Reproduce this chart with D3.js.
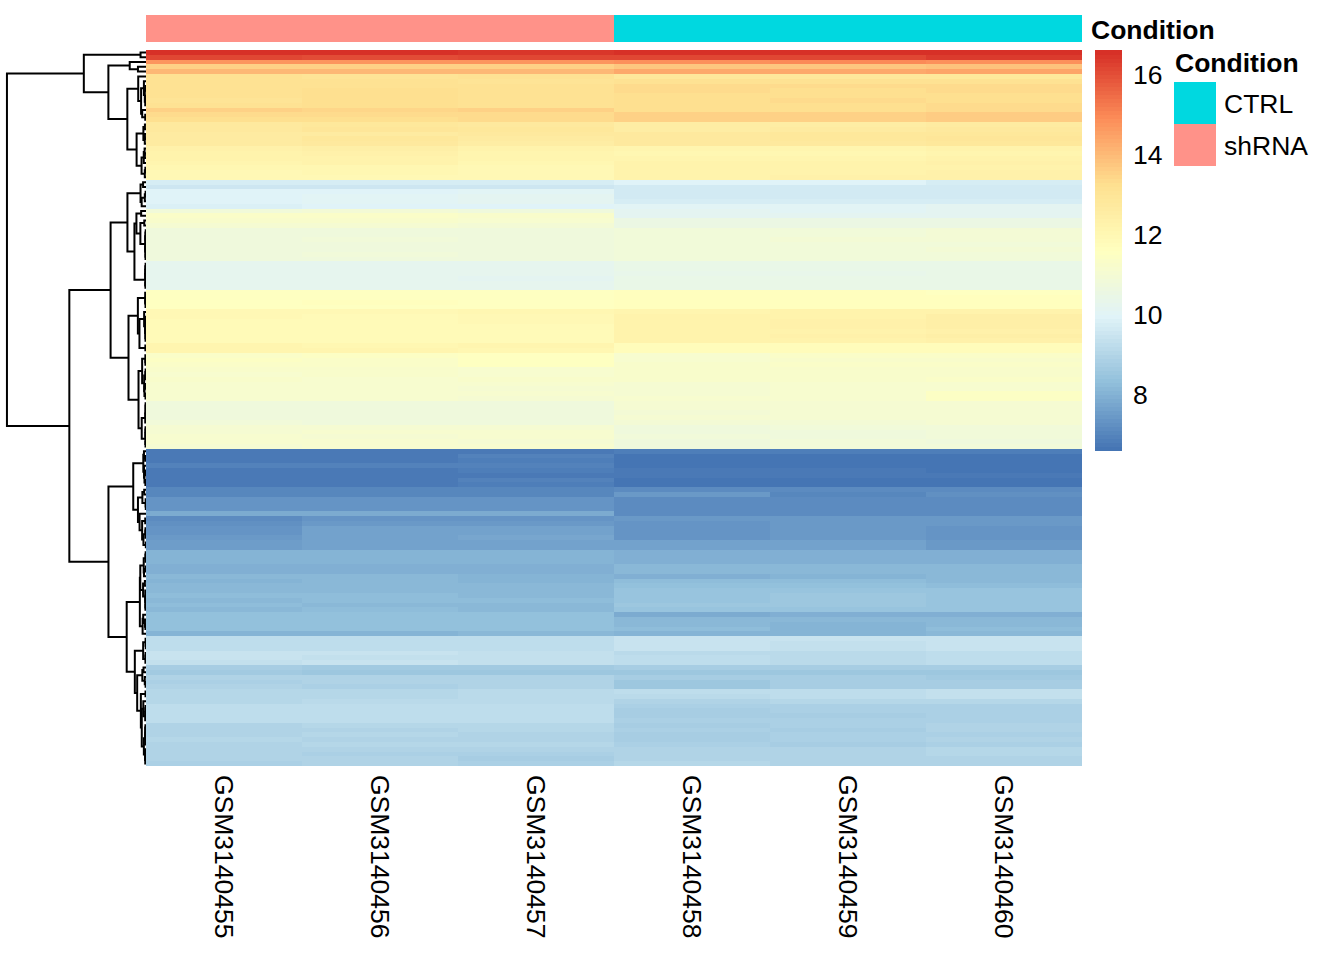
<!DOCTYPE html>
<html>
<head>
<meta charset="utf-8">
<script src="https://cdn.jsdelivr.net/npm/d3@7"></script>
<style>
  html, body { margin: 0; padding: 0; background: #fff; }
  svg { display: block; font-family: "Liberation Sans", Arial, sans-serif; }
</style>
</head>
<body>
<div id="chart"></div>
<script>
// Samples (columns) and their condition annotation
const sampleIds = ['GSM3140455', 'GSM3140456', 'GSM3140457', 'GSM3140458', 'GSM3140459', 'GSM3140460'];
const sampleConditions = ['shRNA', 'shRNA', 'shRNA', 'CTRL', 'CTRL', 'CTRL'];
const conditionLevels = ['CTRL', 'shRNA'];
const legendTicks = [8, 10, 12, 14, 16];

// Expression values, one row per gene, in the order shown
const exprHigh = [
  [16.55, 16.55, 16.5, 16.63, 16.6, 16.6],
  [16.15, 16.1, 16.15, 16.2, 16.2, 16.35],
  [14.75, 14.8, 14.75, 14.9, 14.95, 14.85],
  [13.55, 13.6, 13.55, 13.8, 13.75, 13.85],
  [14.1, 14.1, 14.05, 14.4, 14.4, 14.45],
  [13.15, 13.1, 13.15, 12.85, 12.9, 12.85],
  [13.15, 13.15, 13.1, 13.2, 13.2, 13.15],
  [13.2, 13.2, 13.15, 13.4, 13.35, 13.4],
  [13.2, 13.25, 13.2, 13.35, 13.3, 13.35],
  [13.15, 13.3, 13.2, 13.3, 13.3, 13.3],
  [13.1, 13.3, 13.2, 13.3, 13.35, 13.3],
  [13.2, 13.25, 13.2, 13.3, 13.3, 13.35],
  [13.55, 13.5, 13.6, 13.3, 13.3, 13.35],
  [13.35, 13.4, 13.4, 13.6, 13.55, 13.65],
  [13.3, 13.3, 13.35, 13.6, 13.6, 13.65],
  [12.75, 12.85, 12.8, 12.6, 12.6, 12.65],
  [12.8, 12.95, 12.85, 12.6, 12.7, 12.75],
  [12.7, 12.7, 12.75, 12.8, 12.85, 12.85],
  [12.7, 12.85, 12.7, 12.8, 12.85, 12.95],
  [12.65, 12.75, 12.6, 12.75, 12.75, 12.85],
  [12.4, 12.5, 12.3, 12.2, 12.2, 12.3],
  [12.3, 12.4, 12.2, 12.1, 12.1, 12.2],
  [12.3, 12.3, 12.2, 12.2, 12.2, 12.3],
  [12.2, 12.3, 12.1, 12.3, 12.3, 12.4],
  [12.1, 12.1, 12.0, 12.3, 12.3, 12.3],
  [12.0, 12.1, 12.0, 12.3, 12.3, 12.35],
  [12.0, 12.0, 11.95, 12.3, 12.4, 12.4]
];

const exprMid = [
  [9.75, 9.75, 9.75, 10.0, 10.0, 9.8],
  [9.6, 9.6, 9.6, 9.7, 9.7, 9.7],
  [10.0, 10.0, 10.1, 9.7, 9.7, 9.7],
  [10.0, 10.05, 10.15, 9.7, 9.7, 9.7],
  [10.0, 10.1, 10.15, 9.8, 9.8, 9.8],
  [9.9, 9.95, 10.0, 10.1, 10.1, 10.15],
  [10.9, 10.95, 10.8, 10.15, 10.1, 10.15],
  [11.4, 11.4, 11.3, 10.15, 10.15, 10.2],
  [11.3, 11.25, 11.15, 10.55, 10.6, 10.6],
  [11.1, 11.1, 11.0, 10.6, 10.6, 10.55],
  [10.8, 10.8, 10.8, 10.9, 10.9, 10.95],
  [10.8, 10.8, 10.75, 10.9, 10.9, 10.95],
  [10.8, 10.85, 10.8, 10.9, 10.95, 11.0],
  [10.75, 10.8, 10.8, 10.9, 10.9, 10.9],
  [10.8, 10.8, 10.8, 10.85, 10.9, 10.95],
  [10.75, 10.85, 10.8, 10.9, 10.9, 10.9],
  [10.8, 10.8, 10.8, 10.9, 10.85, 10.9],
  [10.3, 10.3, 10.25, 10.45, 10.45, 10.45],
  [10.3, 10.3, 10.25, 10.45, 10.5, 10.5],
  [10.25, 10.3, 10.25, 10.4, 10.4, 10.5],
  [10.25, 10.3, 10.2, 10.45, 10.5, 10.45],
  [10.3, 10.25, 10.3, 10.45, 10.45, 10.5],
  [10.28, 10.3, 10.25, 10.45, 10.5, 10.45],
  [11.6, 11.6, 11.55, 11.65, 11.65, 11.6],
  [11.55, 11.6, 11.6, 11.7, 11.7, 11.65],
  [11.6, 11.65, 11.6, 11.7, 11.7, 11.7],
  [11.6, 11.6, 11.55, 11.7, 11.7, 11.65],
  [11.95, 11.95, 12.05, 12.2, 12.25, 12.25],
  [11.95, 11.9, 12.0, 12.3, 12.3, 12.45],
  [11.9, 11.9, 11.95, 12.3, 12.35, 12.45],
  [11.9, 11.9, 11.85, 12.3, 12.35, 12.45],
  [11.9, 11.85, 11.9, 12.3, 12.3, 12.4],
  [11.85, 11.9, 11.9, 12.3, 12.35, 12.45],
  [11.85, 11.85, 11.9, 12.3, 12.3, 12.4],
  [12.15, 12.1, 12.15, 11.8, 11.75, 11.8],
  [12.15, 12.15, 12.1, 11.75, 11.8, 11.75],
  [11.4, 11.45, 11.6, 11.2, 11.35, 11.35],
  [11.45, 11.4, 11.55, 11.2, 11.3, 11.3],
  [11.4, 11.4, 11.55, 11.25, 11.35, 11.35],
  [11.25, 11.25, 11.2, 11.25, 11.3, 11.3],
  [11.2, 11.25, 11.2, 11.3, 11.3, 11.3],
  [11.25, 11.2, 11.25, 11.25, 11.3, 11.35],
  [11.15, 11.15, 11.15, 11.1, 11.15, 11.2],
  [11.15, 11.2, 11.1, 11.1, 11.15, 11.2],
  [11.15, 11.15, 11.15, 11.1, 11.2, 11.45],
  [11.2, 11.15, 11.1, 11.15, 11.2, 11.45],
  [10.8, 10.8, 10.8, 11.05, 11.1, 11.1],
  [10.8, 10.8, 10.8, 11.05, 11.05, 11.05],
  [10.8, 10.75, 10.8, 11.0, 11.05, 11.1],
  [10.8, 10.8, 10.8, 11.05, 11.05, 11.05],
  [10.85, 10.8, 10.8, 11.0, 11.0, 11.05],
  [11.1, 11.1, 11.1, 10.8, 10.85, 10.85],
  [11.1, 11.15, 11.15, 10.8, 10.8, 10.85],
  [11.15, 11.1, 11.15, 10.85, 10.8, 10.85],
  [11.15, 11.15, 11.1, 10.8, 10.85, 10.8],
  [11.1, 11.15, 11.15, 10.8, 10.85, 10.85]
];

const exprLow = [
  [6.75, 6.75, 6.8, 6.9, 6.85, 6.85],
  [6.75, 6.75, 7.0, 6.7, 6.7, 6.7],
  [6.75, 6.75, 6.85, 6.7, 6.7, 6.7],
  [6.98, 6.98, 7.0, 6.72, 6.7, 6.72],
  [6.8, 6.8, 6.85, 6.75, 6.75, 6.68],
  [6.8, 6.8, 6.8, 6.75, 6.75, 6.8],
  [6.8, 6.8, 6.95, 6.65, 6.63, 6.65],
  [6.82, 6.82, 6.85, 6.65, 6.63, 6.63],
  [7.07, 7.07, 7.07, 7.2, 7.2, 7.15],
  [7.1, 7.1, 7.1, 7.45, 7.1, 7.3],
  [7.4, 7.4, 7.4, 7.2, 7.15, 7.2],
  [7.42, 7.4, 7.4, 7.2, 7.2, 7.2],
  [7.42, 7.42, 7.4, 7.18, 7.2, 7.18],
  [7.85, 7.85, 7.92, 7.15, 7.18, 7.15],
  [7.15, 7.4, 7.4, 7.45, 7.5, 7.45],
  [7.25, 7.45, 7.45, 7.4, 7.5, 7.45],
  [7.4, 7.65, 7.65, 7.35, 7.5, 7.4],
  [7.4, 7.7, 7.7, 7.35, 7.45, 7.38],
  [7.45, 7.65, 7.75, 7.35, 7.5, 7.4],
  [7.6, 7.7, 7.68, 7.65, 7.7, 7.45],
  [7.6, 7.68, 7.7, 7.65, 7.7, 7.45],
  [8.05, 8.1, 8.1, 7.95, 8.0, 7.95],
  [8.1, 8.1, 8.1, 7.97, 8.0, 7.97],
  [8.1, 8.05, 8.1, 8.0, 8.0, 8.0],
  [7.97, 7.97, 8.0, 8.15, 8.15, 8.2],
  [8.0, 8.0, 7.98, 8.15, 8.15, 8.2],
  [8.15, 8.15, 8.1, 7.95, 8.1, 8.15],
  [8.1, 8.15, 8.1, 8.25, 8.3, 8.2],
  [8.2, 8.2, 8.15, 8.35, 8.35, 8.3],
  [8.15, 8.2, 8.2, 8.5, 8.5, 8.45],
  [8.25, 8.25, 8.2, 8.5, 8.55, 8.5],
  [8.2, 8.25, 8.25, 8.5, 8.55, 8.5],
  [8.25, 8.2, 8.2, 8.55, 8.55, 8.45],
  [8.2, 8.25, 8.22, 8.5, 8.5, 8.45],
  [8.4, 8.4, 8.4, 7.9, 7.95, 7.95],
  [8.4, 8.4, 8.4, 8.15, 8.2, 8.15],
  [8.35, 8.4, 8.4, 8.2, 8.1, 8.2],
  [8.4, 8.35, 8.4, 8.25, 8.1, 8.25],
  [8.1, 8.1, 8.15, 8.1, 8.1, 8.15],
  [9.3, 9.3, 9.3, 9.45, 9.45, 9.5],
  [9.3, 9.3, 9.28, 9.45, 9.4, 9.45],
  [9.3, 9.28, 9.3, 9.45, 9.4, 9.45],
  [9.45, 9.45, 9.4, 9.2, 9.2, 9.25],
  [9.45, 9.42, 9.4, 9.25, 9.2, 9.3],
  [9.42, 9.45, 9.4, 9.3, 9.2, 9.25],
  [8.8, 8.7, 8.7, 8.8, 8.8, 8.8],
  [8.65, 8.6, 8.6, 8.6, 8.6, 8.55],
  [8.95, 8.95, 8.95, 8.75, 8.75, 8.7],
  [8.9, 8.95, 8.95, 8.55, 8.75, 8.75],
  [8.95, 8.9, 8.95, 8.55, 8.75, 8.75],
  [9.05, 9.1, 9.2, 9.25, 9.25, 9.4],
  [9.1, 9.05, 9.2, 9.2, 9.25, 9.4],
  [9.05, 9.15, 9.2, 9.0, 9.05, 9.05],
  [9.25, 9.25, 9.3, 8.85, 8.85, 8.85],
  [9.25, 9.3, 9.3, 8.8, 8.85, 8.9],
  [9.3, 9.25, 9.25, 8.8, 8.8, 8.85],
  [9.25, 9.3, 9.3, 8.85, 8.9, 8.85],
  [9.0, 9.05, 9.05, 8.8, 8.85, 8.95],
  [9.0, 9.0, 9.05, 8.85, 8.8, 9.0],
  [9.0, 9.05, 9.0, 8.8, 8.85, 8.9],
  [9.05, 9.0, 9.0, 8.8, 8.85, 8.95],
  [9.0, 9.05, 9.05, 8.9, 8.8, 8.9],
  [8.95, 8.95, 8.95, 9.0, 9.0, 9.05],
  [8.95, 8.9, 8.85, 9.0, 9.0, 9.05],
  [8.95, 8.95, 8.8, 9.0, 8.95, 9.0],
  [8.9, 8.95, 8.9, 9.05, 9.0, 9.0]
];

const expr = exprHigh.concat(exprMid, exprLow);

// Layout
const width = 1344;
const height = 960;
const heat = { left: 146, right: 1082, top: 50, bottom: 766 };
const annot = { top: 15, bottom: 41.7 };
const treeLeft = 0;
const fontSize = 26.5;

const conditionColor = d3.scaleOrdinal()
  .domain(conditionLevels)
  .range(['#00D8E0', '#FF9289']);

// pheatmap default palette: rev(RdYlBu 7) ramped to 100 colours
const palette = d3.quantize(
  d3.piecewise(d3.interpolateRgb, ['#4575B4', '#91BFDB', '#E0F3F8', '#FFFFBF', '#FEE090', '#FC8D59', '#D73027']),
  100
);
const allValues = expr.flat();
const vMin = d3.min(allValues);
const vMax = d3.max(allValues);
const color = d3.scaleQuantize().domain([vMin, vMax]).range(palette);

const x = d3.scaleBand().domain(sampleIds).range([heat.left, heat.right]);
const y = d3.scaleBand().domain(d3.range(expr.length)).range([heat.top, heat.bottom]);

// Row clustering: complete linkage on euclidean distance, merging neighbours
// so the leaf order stays the order shown
function clusterRows(rows) {
  const dist = rows.map(a => rows.map(b => Math.sqrt(d3.sum(a, (v, i) => (v - b[i]) ** 2))));
  const linkage = (a, b) => {
    let m = 0;
    for (let i = a.lo; i <= a.hi; i++)
      for (let j = b.lo; j <= b.hi; j++)
        if (dist[i][j] > m) m = dist[i][j];
    return m;
  };
  let clusters = rows.map((r, i) => ({ lo: i, hi: i, height: 0, leaf: i }));
  while (clusters.length > 1) {
    let best = 0, bestD = Infinity;
    for (let k = 0; k < clusters.length - 1; k++) {
      const d = linkage(clusters[k], clusters[k + 1]);
      if (d < bestD) { bestD = d; best = k; }
    }
    const a = clusters[best], b = clusters[best + 1];
    const h = Math.max(bestD, a.height, b.height);
    clusters.splice(best, 2, { lo: a.lo, hi: b.hi, height: h, children: [a, b] });
  }
  return clusters[0];
}

const tree = d3.hierarchy(clusterRows(expr), d => d.children);
tree.eachAfter(node => {
  node.yPos = node.children
    ? (node.children[0].yPos + node.children[1].yPos) / 2
    : y(node.data.leaf) + y.bandwidth() / 2;
});

const treeX = d3.scaleLinear()
  .domain([0, tree.data.height * 1.05])
  .range([heat.left, treeLeft]);

const svg = d3.select('#chart')
  .append('svg')
  .attr('width', width)
  .attr('height', height)
  .attr('viewBox', `0 0 ${width} ${height}`);

// Dendrogram
svg.append('g')
  .selectAll('path')
  .data(tree.descendants().filter(d => d.children))
  .join('path')
  .attr('fill', 'none')
  .attr('stroke', '#000')
  .attr('stroke-width', 2)
  .attr('d', d => {
    const [c1, c2] = d.children;
    const xp = treeX(d.data.height);
    return `M${treeX(c1.data.height)},${c1.yPos}H${xp}V${c2.yPos}H${treeX(c2.data.height)}`;
  });

// Heatmap cells
const cells = [];
expr.forEach((row, i) => row.forEach((v, j) => cells.push({ row: i, sample: sampleIds[j], value: v })));

svg.append('g')
  .attr('shape-rendering', 'crispEdges')
  .selectAll('rect')
  .data(cells)
  .join('rect')
  .attr('x', d => x(d.sample))
  .attr('y', d => y(d.row))
  .attr('width', x.bandwidth())
  .attr('height', y.bandwidth() + 0.3)
  .attr('fill', d => color(d.value));

// Column annotation bar
svg.append('g')
  .attr('shape-rendering', 'crispEdges')
  .selectAll('rect')
  .data(sampleIds)
  .join('rect')
  .attr('x', d => x(d))
  .attr('y', annot.top)
  .attr('width', x.bandwidth())
  .attr('height', annot.bottom - annot.top)
  .attr('fill', (d, i) => conditionColor(sampleConditions[i]));

svg.append('text')
  .attr('x', heat.right + 9)
  .attr('y', 38.5)
  .attr('font-size', fontSize)
  .attr('font-weight', 'bold')
  .text('Condition');

// Column labels, rotated
svg.append('g')
  .selectAll('text')
  .data(sampleIds)
  .join('text')
  .attr('transform', d => `translate(${x(d) + x.bandwidth() / 2},775) rotate(90)`)
  .attr('dy', '0.35em')
  .attr('font-size', fontSize)
  .text(d => d);

// Colour legend
const legY = d3.scaleLinear().domain([vMin, vMax]).range([450, 50]);
const legend = svg.append('g');
const step = (vMax - vMin) / palette.length;
legend.append('g')
  .attr('shape-rendering', 'crispEdges')
  .selectAll('rect')
  .data(palette)
  .join('rect')
  .attr('x', 1095)
  .attr('width', 27)
  .attr('y', (c, i) => legY(vMin + (i + 1) * step))
  .attr('height', (c, i) => legY(vMin + i * step) - legY(vMin + (i + 1) * step) + 0.5)
  .attr('fill', c => c);

legend.selectAll('text')
  .data(legendTicks)
  .join('text')
  .attr('x', 1133)
  .attr('y', d => legY(d))
  .attr('dy', '0.33em')
  .attr('font-size', fontSize)
  .text(d => d);

// Condition legend
const condLeg = svg.append('g');
condLeg.append('text')
  .attr('x', 1175)
  .attr('y', 72)
  .attr('font-size', fontSize)
  .attr('font-weight', 'bold')
  .text('Condition');

condLeg.selectAll('rect')
  .data(conditionLevels)
  .join('rect')
  .attr('x', 1174)
  .attr('y', (d, i) => 82 + i * 42)
  .attr('width', 42)
  .attr('height', 42)
  .attr('fill', d => conditionColor(d));

condLeg.selectAll('text.lab')
  .data(conditionLevels)
  .join('text')
  .attr('class', 'lab')
  .attr('x', 1224)
  .attr('y', (d, i) => 103 + i * 42)
  .attr('dy', '0.36em')
  .attr('font-size', fontSize)
  .text(d => d);
</script>
</body>
</html>
